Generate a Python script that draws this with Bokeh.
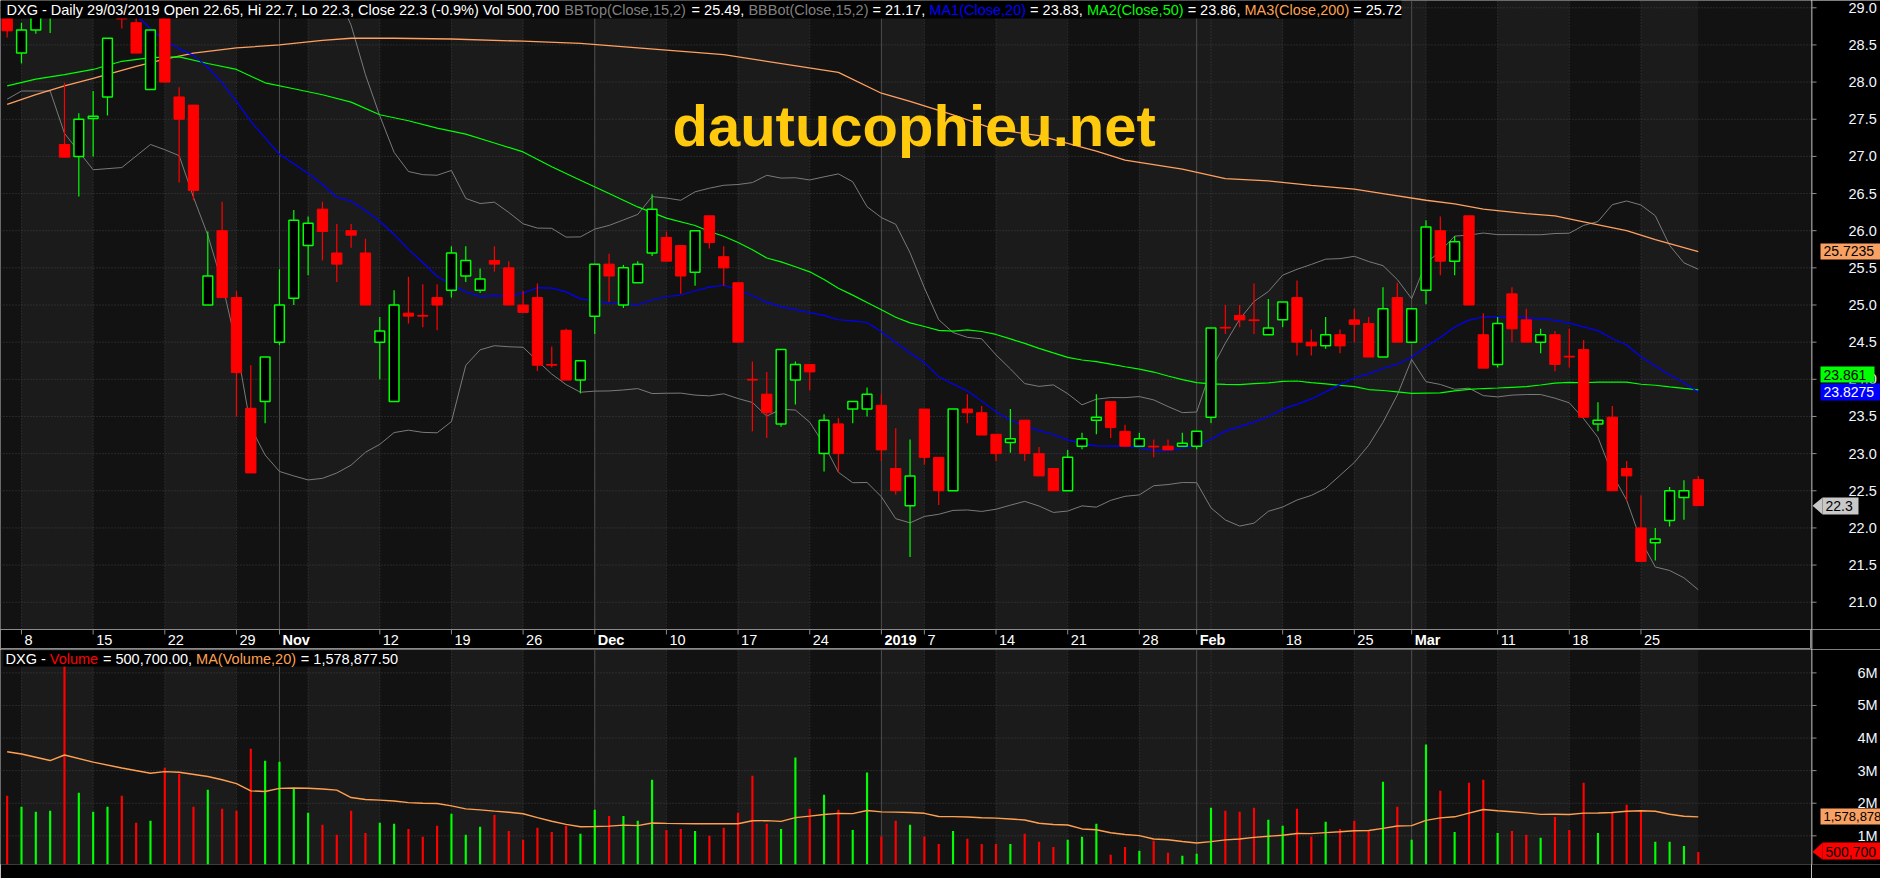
import numpy as np
import pandas as pd
from bokeh.plotting import figure
from bokeh.layouts import column, row
from bokeh.models import (Range1d, Label, BoxAnnotation, ColumnDataSource)
from bokeh.core.properties import value
from bokeh.embed import file_html
from bokeh.resources import INLINE

# ---------------- data (DXG daily, 05/10/2018 .. 29/03/2019) ----------------
open_ = [29.0, 28.39, 28.7, 28.9, 27.16, 27.0, 27.51, 27.8, 29.05, 28.8,
         27.9, 28.95, 27.8, 27.69, 25.0, 26.0, 25.1, 23.61, 23.7, 24.5,
         25.09, 25.8, 26.29, 25.7, 26.0, 25.7, 24.5, 23.7, 24.89, 24.86,
         25.1, 25.2, 25.39, 25.2, 25.6, 25.5, 25.0, 25.1, 24.2, 24.66,
         23.99, 24.85, 25.55, 25.0, 25.3, 25.7, 25.91, 25.8, 25.44, 26.2,
         25.65, 25.3, 24.0, 23.8, 23.4, 23.99, 24.2, 23.0, 23.4, 23.6,
         23.6, 23.65, 22.8, 22.3, 23.6, 22.95, 22.5, 23.6, 23.55, 23.26,
         23.15, 23.45, 23.0, 22.8, 22.5, 23.1, 23.45, 23.7, 23.3, 23.1,
         23.1, 23.1, 23.1, 23.1, 23.49, 24.7, 24.86, 24.8, 24.6, 24.8,
         25.1, 24.5, 24.45, 24.6, 24.8, 24.75, 24.3, 25.1, 24.5, 25.2,
         26.0, 25.59, 26.2, 24.6, 24.2, 25.15, 24.8, 24.5, 24.6, 24.31,
         24.4, 23.4, 23.49, 22.8, 22.0, 21.8, 22.1, 22.41, 22.65]
high = [29.05, 28.8, 29.0, 29.1, 27.99, 27.58, 27.88, 28.59, 29.1, 28.9,
        28.7, 29.0, 27.93, 27.69, 25.99, 26.39, 25.19, 24.19, 24.3, 25.48,
        26.28, 26.19, 26.39, 26.09, 26.09, 25.89, 24.84, 25.2, 25.38, 25.28,
        25.28, 25.79, 25.79, 25.49, 25.79, 25.59, 25.19, 25.29, 24.44, 24.68,
        24.25, 25.55, 25.69, 25.54, 25.59, 26.49, 25.99, 25.8, 26.0, 26.2,
        25.79, 25.3, 24.24, 24.1, 24.4, 24.24, 24.2, 23.53, 23.48, 23.7,
        23.89, 23.8, 23.34, 23.19, 23.6, 22.95, 23.6, 23.8, 23.64, 23.26,
        23.6, 23.45, 23.09, 22.8, 23.05, 23.28, 23.8, 23.7, 23.39, 23.28,
        23.19, 23.19, 23.28, 23.3, 24.69, 25.0, 25.0, 25.29, 25.08, 25.04,
        25.33, 24.67, 24.84, 24.67, 24.95, 24.84, 25.24, 25.3, 24.95, 26.14,
        26.19, 25.93, 26.2, 24.89, 24.84, 25.24, 24.95, 24.68, 24.65, 24.68,
        24.53, 23.69, 23.64, 22.9, 22.44, 22.0, 22.55, 22.64, 22.7]
low = [28.6, 28.25, 28.65, 28.66, 26.99, 26.46, 27.0, 27.55, 28.72, 28.39,
       27.9, 28.0, 26.65, 26.41, 25.0, 25.1, 23.5, 22.74, 23.41, 24.46,
       25.0, 25.4, 25.6, 25.31, 25.77, 25.0, 24.0, 23.7, 24.75, 24.7,
       24.66, 25.1, 25.31, 25.16, 25.45, 25.0, 24.9, 24.11, 24.16, 23.99,
       23.81, 24.61, 25.04, 24.96, 25.3, 25.66, 25.59, 25.15, 25.26, 25.76,
       25.26, 24.5, 23.3, 23.21, 23.36, 23.66, 23.85, 22.76, 22.75, 23.41,
       23.5, 22.9, 22.45, 21.61, 22.85, 22.31, 22.5, 23.41, 23.25, 22.9,
       23.01, 22.9, 22.7, 22.5, 22.5, 23.06, 23.26, 23.21, 23.1, 23.1,
       22.95, 23.05, 23.1, 23.06, 23.41, 24.61, 24.7, 24.61, 24.6, 24.7,
       24.32, 24.32, 24.41, 24.35, 24.5, 24.3, 24.3, 24.5, 24.5, 25.01,
       25.4, 25.4, 25.0, 24.15, 24.16, 24.5, 24.5, 24.35, 24.11, 24.16,
       23.49, 23.3, 22.5, 22.36, 21.55, 21.56, 22.02, 22.11, 22.3]
close = [28.69, 28.7, 28.9, 29.05, 26.99, 27.5, 27.54, 28.59, 28.85, 28.39,
         28.7, 28.0, 27.5, 26.54, 25.39, 25.1, 24.09, 22.74, 24.3, 25.0,
         26.14, 26.1, 25.99, 25.55, 25.94, 25.0, 24.65, 25.0, 24.85, 24.85,
         25.0, 25.7, 25.6, 25.35, 25.55, 25.0, 24.9, 24.19, 24.19, 23.99,
         24.25, 25.55, 25.39, 25.5, 25.55, 26.29, 25.59, 25.39, 26.0, 25.84,
         25.5, 24.5, 23.99, 23.55, 24.4, 24.2, 24.1, 23.45, 23.0, 23.7,
         23.8, 23.05, 22.5, 22.7, 22.95, 22.5, 23.6, 23.55, 23.25, 23.0,
         23.2, 23.0, 22.7, 22.5, 22.95, 23.2, 23.49, 23.35, 23.1, 23.2,
         23.09, 23.05, 23.14, 23.3, 24.69, 24.69, 24.8, 24.79, 24.69, 25.04,
         24.5, 24.45, 24.6, 24.45, 24.74, 24.3, 24.95, 24.5, 24.95, 26.05,
         25.59, 25.85, 25.0, 24.15, 24.75, 24.68, 24.5, 24.6, 24.2, 24.3,
         23.49, 23.45, 22.5, 22.7, 21.55, 21.85, 22.5, 22.5, 22.3]
volume_m = [2.23, 1.89, 1.74, 1.77, 6.3, 2.32, 1.74, 1.89, 2.23, 1.4,
            1.46, 3.09, 2.9, 1.89, 2.41, 1.83, 1.77, 3.67, 3.3, 3.27,
            2.47, 1.71, 1.34, 1.03, 1.77, 1.09, 1.4, 1.37, 1.21, 0.97,
            1.31, 1.68, 1.03, 1.28, 1.64, 1.15, 0.88, 1.25, 1.12, 1.31,
            1.06, 1.8, 1.61, 1.61, 1.46, 2.72, 1.18, 1.21, 1.15, 1.0,
            1.25, 1.71, 2.84, 1.37, 1.21, 3.4, 1.83, 2.26, 1.8, 1.18,
            2.94, 0.98, 1.46, 1.34, 0.98, 0.75, 1.15, 0.91, 0.75, 0.75,
            0.75, 1.06, 0.82, 0.66, 0.88, 0.97, 1.37, 0.42, 0.66, 0.54,
            0.85, 0.48, 0.39, 0.45, 1.86, 1.77, 1.74, 1.86, 1.49, 1.31,
            1.83, 0.98, 1.43, 1.21, 1.46, 1.15, 2.66, 1.89, 0.88, 3.8,
            2.38, 1.12, 2.63, 2.72, 1.09, 1.15, 1.03, 0.94, 1.58, 1.18,
            2.63, 1.09, 1.74, 1.95, 1.77, 0.82, 0.82, 0.69, 0.5007]

# indicator values before the full look-back window
ma20_head_idx = [8, 9, 10, 11, 12, 13, 14, 15, 16, 17, 18]
ma20_head_val = [29.0, 28.9, 28.72, 28.56, 28.45, 28.36, 28.2, 27.99, 27.74, 27.47, 27.25]
ma50_head_idx = [0, 2, 4, 6, 8, 10, 12, 14, 16, 18, 20, 22, 24, 26, 28, 30, 32, 34,
                 36, 38, 40, 42, 44, 46, 48]
ma50_head_val = [27.95, 28.04, 28.1, 28.17, 28.28, 28.33, 28.34, 28.25, 28.17, 27.99,
                 27.91, 27.83, 27.73, 27.56, 27.48, 27.38, 27.3, 27.18, 27.06, 26.86,
                 26.68, 26.5, 26.32, 26.17, 26.07]
bbbot_head_idx = [0, 1, 3, 4, 6, 8, 10, 11, 12, 13]
bbbot_head_val = [27.77, 27.88, 27.88, 27.31, 26.82, 26.85, 27.16, 27.09, 27.01, 26.45]
ma200_idx = [0, 2, 4, 6, 9, 11, 13, 16, 19, 22, 24, 27, 31, 36, 40, 50, 58, 61, 63,
             66, 69, 72, 76, 78, 82, 85, 88, 91, 94, 96, 99, 101, 103, 106, 108, 110,
             113, 115, 118]
ma200_val = [27.7, 27.83, 27.95, 28.05, 28.21, 28.31, 28.39, 28.46, 28.5, 28.56, 28.59,
             28.59, 28.58, 28.55, 28.52, 28.37, 28.13, 27.85, 27.74, 27.56, 27.36, 27.28,
             27.07, 26.95, 26.83, 26.7, 26.67, 26.61, 26.56, 26.5, 26.41, 26.36, 26.29,
             26.23, 26.2, 26.12, 26.0, 25.88, 25.72]
volma_head_idx = [0, 1, 3, 4, 6, 8, 10, 11, 12, 14, 15, 16, 17, 18]
volma_head_val = [3.58, 3.51, 3.31, 3.48, 3.26, 3.08, 2.92, 2.97, 2.95, 2.82, 2.72, 2.6,
                  2.38, 2.36]

# x-axis ticks (bar index) and labels
tick_idx = [1, 6, 11, 16, 19, 26, 31, 36, 41, 46, 51, 56, 61, 64, 69, 74, 79, 83, 89,
            94, 98, 104, 109, 114]
tick_lbl = ["8", "15", "22", "29", "Nov", "12", "19", "26", "Dec", "10", "17", "24",
            "2019", "7", "14", "21", "28", "Feb", "18", "25", "Mar", "11", "18", "25"]
week_idx = [1, 6, 11, 16, 21, 26, 31, 36, 41, 46, 51, 56, 64, 69, 74, 79, 84, 89, 94,
            99, 104, 109, 114]
month_idx = [19, 41, 61, 83, 98]
price_ticks = [21.0, 21.5, 22.0, 22.5, 23.0, 23.5, 24.0, 24.5, 25.0, 25.5, 26.0, 26.5,
               27.0, 27.5, 28.0, 28.5, 29.0]
price_tick_lbl = ["21.0", "21.5", "22.0", "22.5", "23.0", "23.5", "24.0", "24.5", "25.0",
                  "25.5", "26.0", "26.5", "27.0", "27.5", "28.0", "28.5", "29.0"]
vol_ticks = [1, 2, 3, 4, 5, 6]
vol_tick_lbl = ["1M", "2M", "3M", "4M", "5M", "6M"]

# ---------------- derived indicators ----------------
n = len(close)
idx = list(range(n))
cs = pd.Series(close)
ma20 = cs.rolling(20).mean()
ma50 = cs.rolling(50).mean()
mid15 = cs.rolling(15).mean()
sd15 = cs.rolling(15).std(ddof=0)
bbtop = mid15 + 2 * sd15
bbbot = mid15 - 2 * sd15
volma = pd.Series(volume_m).rolling(20).mean()

ma20_x = ma20_head_idx + idx[19:]
ma20_y = ma20_head_val + list(ma20[19:])
ma50_x = ma50_head_idx + idx[49:]
ma50_y = ma50_head_val + list(ma50[49:])
bbtop_x = idx[14:]
bbtop_y = list(bbtop[14:])
bbbot_x = bbbot_head_idx + idx[14:]
bbbot_y = bbbot_head_val + list(bbbot[14:])
volma_x = volma_head_idx + idx[19:]
volma_y = volma_head_val + list(volma[19:])

up = [c >= o for o, c in zip(open_, close)]
col = ["#00FF00" if u else "#FF0000" for u in up]

# ---------------- geometry helpers ----------------
FRAME_W = 1811
AX_W = 69
X_LO, X_HI = -0.465, 125.9
Y_TOP, Y_BOT = 29.098, 20.633
P_H = 629
V_TOP, V_BOT = 6.717, 0.12
V_FH = 215
V_H = 229
D_H = 20
LIGHT, DARK = "#1b1b1b", "#121212"
FONT = "Liberation Sans"
AXC = "#909090"


def xpx(px):
    return X_LO + px * (X_HI - X_LO) / FRAME_W


def ypx(py):
    return Y_TOP - py * (Y_TOP - Y_BOT) / P_H


def vpx(py):
    return V_TOP - py * (V_TOP - V_BOT) / V_FH


ARIAL = {' ': 278, '%': 889, '(': 333, ')': 333, ',': 278, '-': 333, '.': 278,
         '/': 278, '=': 584, 'A': 667, 'B': 667, 'C': 722, 'D': 722, 'G': 778,
         'H': 722, 'L': 556, 'M': 833, 'O': 778, 'T': 611, 'V': 667, 'X': 667,
         'a': 556, 'c': 500, 'e': 556, 'i': 222, 'l': 222, 'm': 833, 'n': 556,
         'o': 556, 'p': 556, 's': 500, 't': 278, 'u': 556, 'y': 500}


def tw(s, size):
    return sum(ARIAL.get(c, 556) for c in s) * size / 1000.0


def header(fig, segs, px0, yv, size):
    x = px0
    for txt, c in segs:
        lead = len(txt) - len(txt.lstrip(' '))
        body = txt.strip(' ')
        if body:
            fig.add_layout(Label(x=xpx(x + tw(' ' * lead, size)), y=yv, text=body,
                                 text_color=c, text_font=FONT,
                                 text_font_size=f"{size}px", text_baseline="middle",
                                 text_align="left"))
        x += tw(txt, size)


band_edges = [X_LO, 1, 6, 11, 16, 21, 26, 31, 36, 41, 46, 51, 56, 61, 64, 69, 74, 79,
              84, 89, 94, 99, 104, 109, 114, 118, X_HI]
band_light = [0, 1, 0, 1, 0, 1, 0, 1, 0, 1, 0, 1, 0, 1, 0, 1, 0, 1, 1, 0, 1, 0, 1, 0, 1, 0]
band_src = dict(left=band_edges[:-1], right=band_edges[1:],
                color=[LIGHT if b else DARK for b in band_light])


def backdrop(fig, ybot, ytop, ticks):
    fig.quad(left="left", right="right", bottom=ybot, top=ytop, fill_color="color",
             line_color=None, source=ColumnDataSource(band_src))
    fig.segment(x0=week_idx, x1=week_idx, y0=[ybot] * len(week_idx),
                y1=[ytop] * len(week_idx), line_color="#404040", line_dash="1 2",
                line_width=1)
    fig.segment(x0=month_idx, x1=month_idx, y0=[ybot] * len(month_idx),
                y1=[ytop] * len(month_idx), line_color="#4e4e4e", line_width=1)
    fig.segment(x0=[X_LO] * len(ticks), x1=[X_HI] * len(ticks), y0=ticks, y1=ticks,
                line_color="#404040", line_dash="1 2", line_width=1)


def axis_fig(height, yrange, ticks, labels, label_x, bottom):
    a = figure(width=AX_W, height=height, x_range=Range1d(0, AX_W), y_range=yrange,
               output_backend="svg", toolbar_location=None, x_axis_location=None,
               y_axis_location=None, min_border_left=0, min_border_right=0,
               min_border_top=0, min_border_bottom=bottom,
               background_fill_color="black", border_fill_color="black",
               outline_line_color=None)
    a.grid.visible = False
    a.segment(x0=[0.5], x1=[0.5], y0=[yrange.start], y1=[yrange.end],
              line_color=AXC, line_width=1)
    a.segment(x0=[0] * len(ticks), x1=[5] * len(ticks), y0=ticks, y1=ticks,
              line_color=AXC, line_width=1)
    a.text(x=[label_x] * len(ticks), y=ticks, text=labels, text_font=value(FONT),
           text_font_size="14.5px", text_color="#f2f6ff", text_baseline="middle",
           text_align="left")
    return a


def value_box(a, conv, left, right, ptop, pbot, yc, text, bg, fg, arrow=False,
              size="14px"):
    a.quad(left=[left], right=[right], top=[conv(ptop)], bottom=[conv(pbot)],
           fill_color=bg, line_color=None)
    if arrow:
        a.patch(x=[1, left, left], y=[yc, conv(ptop), conv(pbot)], fill_color=bg,
                line_color=None)
    a.text(x=[left + 3], y=[yc], text=[text], text_font=value(FONT),
           text_font_size=size, text_color=fg, text_baseline="middle",
           text_align="left")


# ---------------- price panel ----------------
p = figure(width=FRAME_W, height=P_H, x_range=Range1d(X_LO, X_HI),
           y_range=Range1d(Y_BOT, Y_TOP), output_backend="svg", toolbar_location=None,
           x_axis_location=None, y_axis_location=None, min_border_left=0,
           min_border_right=0, min_border_top=0, min_border_bottom=0,
           background_fill_color=DARK, border_fill_color="black",
           outline_line_color=None)
p.grid.visible = False
backdrop(p, Y_BOT, Y_TOP, price_ticks)

p.line(bbtop_x, bbtop_y, line_color="#7a7a7a", line_width=1)
p.line(bbbot_x, bbbot_y, line_color="#7a7a7a", line_width=1)
p.line(ma200_idx, ma200_val, line_color="#FFA060", line_width=1.3)
p.line(ma50_x, ma50_y, line_color="#00FF00", line_width=1.2)
p.line(ma20_x, ma20_y, line_color="#0000FF", line_width=1.2)

src = ColumnDataSource(dict(x=idx, o=open_, h=high, l=low, c=close, col=col))
p.segment(x0="x", y0="l", x1="x", y1="h", line_color="col", line_width=1.2, source=src)
dn = [i for i in idx if not up[i]]
ui = [i for i in idx if up[i]]
p.vbar(x=dn, width=0.72, top=[open_[i] for i in dn], bottom=[close[i] for i in dn],
       fill_color="#FF0000", line_color="#FF0000", line_width=1)
p.vbar(x=ui, width=0.68, top=[close[i] for i in ui], bottom=[open_[i] for i in ui],
       fill_color="black", line_color="#00FF00", line_width=1.5)

p.add_layout(Label(x=xpx(672), y=ypx(125), text="dautucophieu.net", text_font=FONT,
                   text_font_style="bold", text_font_size="58px", text_color="#FFC90E",
                   text_baseline="middle", text_align="left"))

p.add_layout(BoxAnnotation(left=X_LO, right=xpx(1401), top=Y_TOP, bottom=ypx(18),
                           fill_color="black", fill_alpha=1, line_color=None))
header(p, [("DXG - Daily 29/03/2019 Open 22.65, Hi 22.7, Lo 22.3, Close 22.3 (-0.9%) Vol 500,700 ", "white"),
           ("BBTop(Close,15,2)", "#808080"), (" = 25.49, ", "white"),
           ("BBBot(Close,15,2)", "#808080"), (" = 21.17, ", "white"),
           ("MA1(Close,20)", "#0000FF"), (" = 23.83, ", "white"),
           ("MA2(Close,50)", "#00FF00"), (" = 23.86, ", "white"),
           ("MA3(Close,200)", "#FFA050"), (" = 25.72", "white")],
       6, ypx(9), 14.5)

pa = axis_fig(P_H, p.y_range, price_ticks, price_tick_lbl, 37, 0)
value_box(pa, ypx, 9, 69, 243, 259, 25.7235, "25.7235", "#F9A162", "black")
value_box(pa, ypx, 9, 63, 366, 382, ypx(374), "23.861", "#00FF00", "black")
value_box(pa, ypx, 9, 69, 383, 400, 23.8275, "23.8275", "#0000FF", "white")
value_box(pa, ypx, 11, 47, 497, 514, 22.3, "22.3", "#C8C8C8", "black", arrow=True)

# ---------------- date strip ----------------
d = figure(width=FRAME_W, height=D_H, x_range=p.x_range, y_range=Range1d(0, D_H),
           output_backend="svg", toolbar_location=None, x_axis_location=None,
           y_axis_location=None, min_border_left=0, min_border_right=0,
           min_border_top=0, min_border_bottom=0, background_fill_color="black",
           border_fill_color="black", outline_line_color="#8a8a8a")
d.grid.visible = False
d.segment(x0=tick_idx, x1=tick_idx, y0=[D_H] * len(tick_idx),
          y1=[D_H - 5] * len(tick_idx), line_color="#8a8a8a")
bold = {"Nov", "Dec", "2019", "Feb", "Mar"}
nx = [t for t, s in zip(tick_idx, tick_lbl) if s not in bold]
ns = [s for s in tick_lbl if s not in bold]
bx = [t for t, s in zip(tick_idx, tick_lbl) if s in bold]
bs = [s for s in tick_lbl if s in bold]
d.text(x=nx, y=[9.5] * len(nx), text=ns, x_offset=3, text_font=value(FONT),
       text_font_size="14.5px", text_color="white", text_baseline="middle",
       text_align="left")
d.text(x=bx, y=[9.5] * len(bx), text=bs, x_offset=3, text_font=value(FONT),
       text_font_style="bold", text_font_size="14.5px", text_color="white",
       text_baseline="middle", text_align="left")
da = figure(width=AX_W, height=D_H, x_range=Range1d(0, AX_W), y_range=Range1d(0, D_H),
            output_backend="svg", toolbar_location=None, x_axis_location=None,
            y_axis_location=None, min_border_left=0, min_border_right=0,
            min_border_top=0, min_border_bottom=0, background_fill_color="black",
            border_fill_color="black", outline_line_color=None)
da.grid.visible = False
da.segment(x0=[0.5], x1=[0.5], y0=[0], y1=[D_H], line_color=AXC)

# ---------------- volume panel ----------------
v = figure(width=FRAME_W, height=V_H, x_range=p.x_range, y_range=Range1d(V_BOT, V_TOP),
           output_backend="svg", toolbar_location=None, x_axis_location=None,
           y_axis_location=None, min_border_left=0, min_border_right=0,
           min_border_top=0, min_border_bottom=V_H - V_FH,
           background_fill_color=DARK, border_fill_color="black",
           outline_line_color=None)
v.grid.visible = False
backdrop(v, V_BOT, V_TOP, vol_ticks)
v.vbar(x=idx, width=0.15, top=volume_m, bottom=0, fill_color=col, line_color=None)
v.line(volma_x, volma_y, line_color="#FFA050", line_width=1.4)

v.add_layout(BoxAnnotation(left=xpx(3), right=xpx(396), top=vpx(1), bottom=vpx(17),
                           fill_color="black", fill_alpha=1, line_color=None))
header(v, [("DXG - ", "white"), ("Volume", "#FF0000"), (" = 500,700.00, ", "white"),
           ("MA(Volume,20)", "#FFA050"), (" = 1,578,877.50", "white")],
       5, vpx(9), 14.5)

va = axis_fig(V_H, v.y_range, vol_ticks, vol_tick_lbl, 46, V_H - V_FH)
value_box(va, vpx, 9, 69, 159, 175, 1.578878, "1,578,878", "#F9A162", "black",
          size="13px")
value_box(va, vpx, 11, 69, 193, 210, 0.5007, "500,700", "#FF0000", "black", arrow=True)

layout = column(row(p, pa, spacing=0), row(d, da, spacing=0), row(v, va, spacing=0),
                spacing=0)
open("out.html", "w").write(file_html(layout, INLINE))
